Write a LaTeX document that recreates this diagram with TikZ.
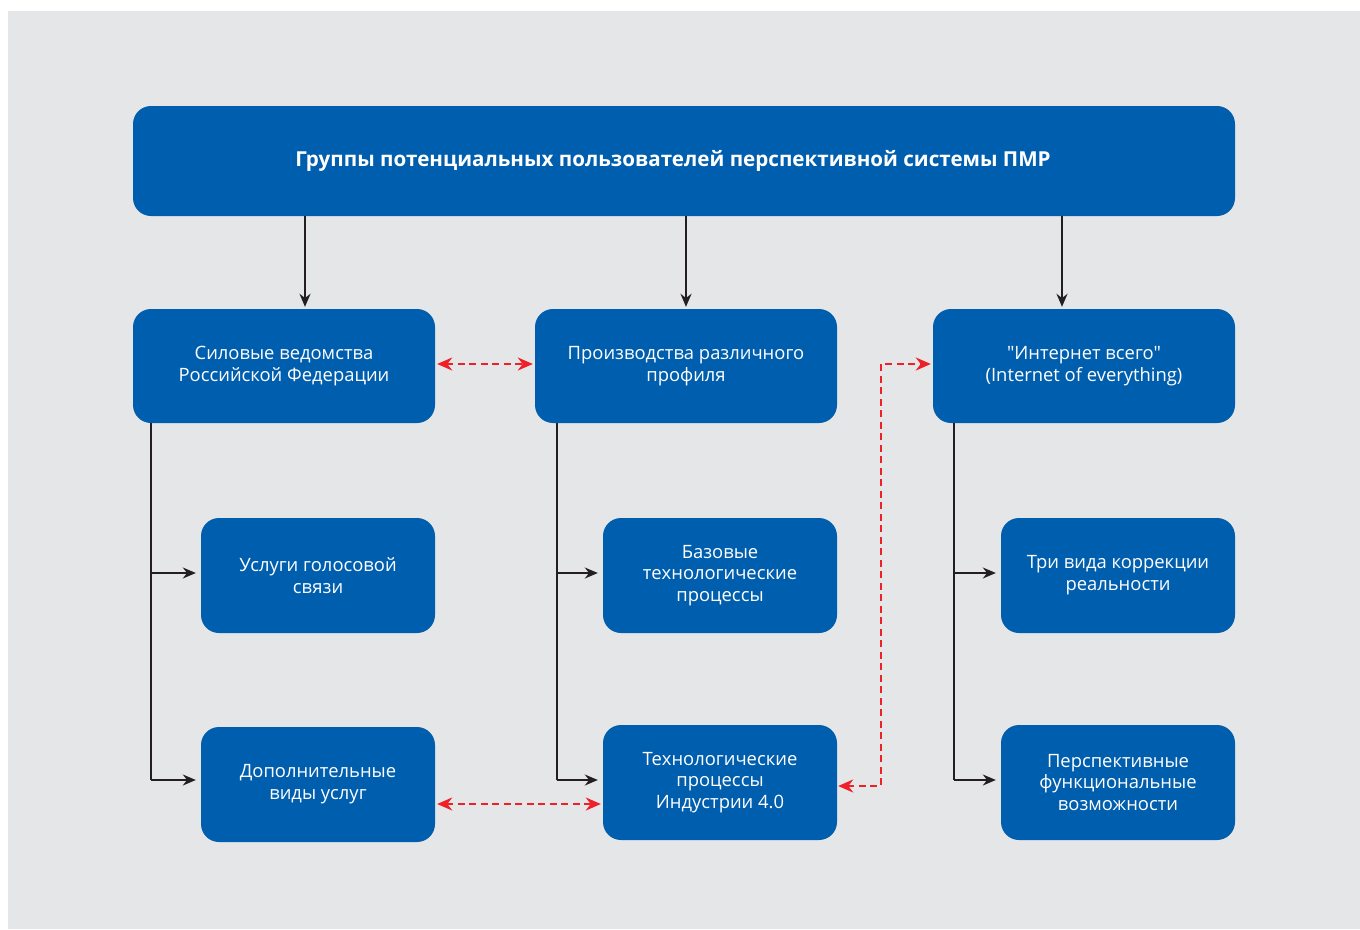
\documentclass[tikz,border=0pt]{standalone}
\usepackage{fontspec}
\newfontfamily\bodyfont{Open Sans}
\usetikzlibrary{arrows.meta,calc}
\definecolor{bgray}{HTML}{E5E6E8}
\definecolor{bblue}{HTML}{005EAE}
\definecolor{lblack}{HTML}{231F20}
\definecolor{lred}{HTML}{EE2128}
\tikzset{
  box/.style={rectangle, rounded corners=18pt, fill=bblue, text=white, align=center,
    font=\bodyfont\fontsize{18.4}{21.8}\selectfont, inner sep=0pt},
  titlebox/.style={box, font=\bodyfont\bfseries\fontsize{20.6}{24}\selectfont},
  arr/.style={draw=lblack, line width=1.8pt, -{Stealth[length=13pt,width=11pt]}},
  link/.style={draw=lblack, line width=1.8pt},
  rdash/.style={draw=lred, line width=2.4pt, dash pattern=on 7pt off 4.5pt,
    {Stealth[length=15pt,width=13pt]}-{Stealth[length=15pt,width=13pt]}}
}
\begin{document}
\begin{tikzpicture}[x=1pt,y=-1pt]
\useasboundingbox (0,0) rectangle (1360,929);
\fill[bgray] (8,11) rectangle (1360,929);
% title
\node[titlebox, minimum width=1102pt, minimum height=110pt] (title) at (684,161)
  {Группы потенциальных пользователей перспективной системы ПМР\hspace*{22pt}};
% row 1
\node[box, minimum width=302pt, minimum height=114pt] (b1) at (284,366)
  {Силовые ведомства\\Российской Федерации};
\node[box, minimum width=302pt, minimum height=114pt] (b2) at (686,366)
  {Производства различного\\профиля};
\node[box, minimum width=302pt, minimum height=114pt] (b3) at (1084,366)
  {"Интернет всего"\\(Internet of everything)};
% row 2
\node[box, minimum width=234pt, minimum height=115pt] (c1) at (318,575.5)
  {Услуги голосовой\\связи};
\node[box, minimum width=234pt, minimum height=115pt] (c2) at (720,575.5)
  {Базовые\\технологические\\процессы};
\node[box, minimum width=234pt, minimum height=115pt] (c3) at (1118,575.5)
  {Три вида коррекции\\реальности};
% row 3
\node[box, minimum width=234pt, minimum height=115pt] (d1) at (318,784.5)
  {Дополнительные\\виды услуг};
\node[box, minimum width=234pt, minimum height=115pt] (d2) at (720,782.5)
  {Технологические\\процессы\\Индустрии 4.0};
\node[box, minimum width=234pt, minimum height=115pt] (d3) at (1118,782.5)
  {Перспективные\\функциональные\\возможности};
% helper coordinates
\coordinate (xa) at (305,0);
\coordinate (xb) at (686,0);
\coordinate (xc) at (1062,0);
\coordinate (v1) at (151,0);
\coordinate (v2) at (557,0);
\coordinate (v3) at (954,0);
\coordinate (ya) at (0,573);
\coordinate (yb) at (0,780);
\coordinate (ry) at (0,804);
\coordinate (ry2) at (0,786);
\coordinate (rx) at (881,364);
% title arrows
\draw[arr, shorten >=2pt] (title.south -| xa) -- (b1.north -| xa);
\draw[arr, shorten >=2pt] (title.south -| xb) -- (b2.north -| xb);
\draw[arr, shorten >=2pt] (title.south -| xc) -- (b3.north -| xc);
% trunks
\draw[link] (b1.south -| v1) -- (yb -| v1);
\draw[arr, shorten >=5pt] (ya -| v1) -- (ya -| c1.west);
\draw[arr, shorten >=5pt] (yb -| v1) -- (yb -| d1.west);
\draw[link] (b2.south -| v2) -- (yb -| v2);
\draw[arr, shorten >=5pt] (ya -| v2) -- (ya -| c2.west);
\draw[arr, shorten >=5pt] (yb -| v2) -- (yb -| d2.west);
\draw[link] (b3.south -| v3) -- (yb -| v3);
\draw[arr, shorten >=5pt] (ya -| v3) -- (ya -| c3.west);
\draw[arr, shorten >=5pt] (yb -| v3) -- (yb -| d3.west);
% red dashed links
\draw[rdash, shorten <=2pt, shorten >=2pt] (b1.east |- rx) -- (b2.west |- rx);
\draw[rdash, shorten <=2pt, shorten >=2pt] (d1.east |- ry) -- (d2.west |- ry);
\draw[rdash, shorten <=1pt, shorten >=2pt] (d2.east |- ry2) -| (rx) -- (b3.west |- rx);
\end{tikzpicture}
\end{document}
